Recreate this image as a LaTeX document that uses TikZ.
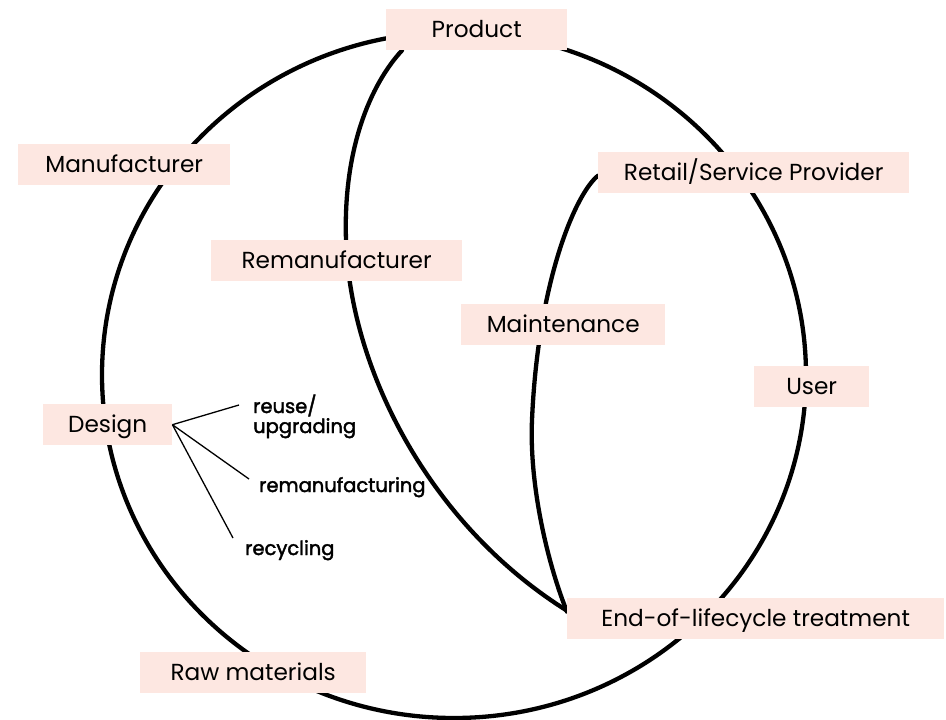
\documentclass[tikz,border=0pt]{standalone}
\usepackage{fontspec}
\setmainfont{Poppins}
\newfontfamily\notefont{Poppins}[FakeBold=2]
\usetikzlibrary{backgrounds}
\definecolor{boxpink}{RGB}{253,231,225}
\begin{document}
\begin{tikzpicture}[x=1pt,y=-1pt,
  stage/.style={fill=boxpink, draw=none, inner sep=0pt, anchor=north west,
    minimum height=41pt, text height=16pt, text depth=0pt,
    font=\fontsize{23.2}{28}\selectfont},
  loopline/.style={line width=4.3pt, line cap=round},
  twig/.style={line width=1.3pt},
  note/.style={font=\notefont\fontsize{19.5}{20}\selectfont, align=left,
    inner sep=0pt, anchor=base west}]
\useasboundingbox (0,0) rectangle (946,720);

% stages of the product life cycle
\node[stage, minimum width=181pt] (prod)   at (386,9)   {Product};
\node[stage, minimum width=212pt] (manu)   at (18,144)  {Manufacturer};
\node[stage, minimum width=311pt] (retail) at (598,152) {Retail/Service Provider};
\node[stage, minimum width=251pt] (reman)  at (211,240) {Remanufacturer};
\node[stage, minimum width=204pt] (maint)  at (461,304) {Maintenance};
\node[stage, minimum width=115pt] (user)   at (754,366) {User};
\node[stage, minimum width=129pt] (design) at (43,404)  {Design};
\node[stage, minimum width=377pt] (eol)    at (567,598) {End-of-lifecycle treatment};
\node[stage, minimum width=226pt] (raw)    at (140,652) {Raw materials};

% design strategies (base anchor sits on the last line)
\node[note] (reuse)   at (253,433) {reuse/\\upgrading};
\node[note] (remanuf) at (259,492) {remanufacturing};
\node[note] (recyc)   at (245,555) {recycling};

\coordinate (t1) at (239,405);
\coordinate (t2) at (249,479);
\coordinate (t3) at (233,538);
\draw[twig] (design.east) -- (t1);
\draw[twig] (design.east) -- (t2);
\draw[twig] (design.east) -- (t3);

\begin{scope}[on background layer]
  % outer loop
  \draw[loopline] (454,375) ellipse [x radius=352, y radius=343];
  % remanufacturing loop
  \draw[loopline] ([xshift=16pt]prod.south west)
    .. controls (370,85) and (343,150) .. (346,240)
    .. controls (350,370) and (430,525) .. ([yshift=8pt]eol.west);
  % maintenance loop
  \draw[loopline] ([yshift=-3pt]retail.west)
    .. controls (576,193) and (538,280) .. (532,420)
    .. controls (529,490) and (550,570) .. ([yshift=7pt]eol.west);
\end{scope}
\end{tikzpicture}
\end{document}
